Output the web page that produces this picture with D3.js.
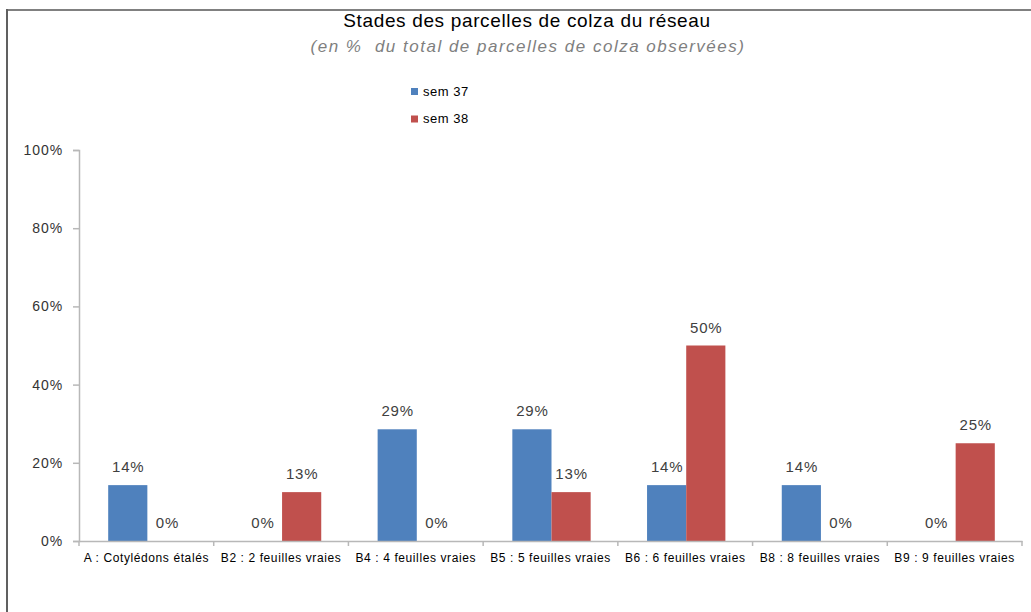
<!DOCTYPE html>
<html>
<head>
<meta charset="utf-8">
<script src="https://cdn.jsdelivr.net/npm/d3@7"></script>
<style>
  body { margin: 0; background: #fff; }
  text { font-family: "Liberation Sans", Arial, sans-serif; }
</style>
</head>
<body>
<svg id="chart" width="1031" height="612"></svg>
<script>
let categories = [
    'A : Cotylédons étalés', 'B2 : 2 feuilles vraies', 'B4 : 4 feuilles vraies',
    'B5 : 5 feuilles vraies', 'B6 : 6 feuilles vraies', 'B8 : 8 feuilles vraies',
    'B9 : 9 feuilles vraies'
]
let seriesNames = ['sem 37', 'sem 38']
let sem37 = [14.29, 0, 28.57, 28.57, 14.29, 14.29, 0]
let sem38 = [0, 12.5, 0, 12.5, 50, 0, 25]
let yTicks = [0, 20, 40, 60, 80, 100]

function main() {
    let svg = d3.select('#chart'),
        margin = {top: 150, bottom: 71, left: 79, right: 9},
        width = svg.attr('width') - margin.left - margin.right,
        height = svg.attr('height') - margin.top - margin.bottom

    let colors = d3.scaleOrdinal(['#4f81bd', '#c0504d']).domain(seriesNames)

    let data = categories.map((c, i) => ({cat: c, values: [sem37[i], sem38[i]]}))

    // frame lines (top and left only)
    svg.append('line').attr('x1', 6).attr('x2', 1031).attr('y1', 10).attr('y2', 10)
        .attr('stroke', '#808080').attr('stroke-width', 2)
    svg.append('line').attr('x1', 7).attr('x2', 7).attr('y1', 9).attr('y2', 612)
        .attr('stroke', '#606060').attr('stroke-width', 2)

    svg.append('text')
        .attr('x', 527).attr('y', 27)
        .attr('text-anchor', 'middle')
        .style('font-size', '19px').style('letter-spacing', '0.65px').attr('fill', '#000')
        .text('Stades des parcelles de colza du réseau')
    svg.append('text')
        .attr('x', 528).attr('y', 52)
        .attr('text-anchor', 'middle')
        .style('white-space', 'pre')
        .style('font-size', '17px').style('font-style', 'italic')
        .style('letter-spacing', '1.5px').attr('fill', '#7f7f7f')
        .text('(en %  du total de parcelles de colza observées)')

    let x = d3.scaleBand().domain(categories)
            .range([margin.left, margin.left + width]).paddingInner(0).paddingOuter(0),
        xs = d3.scaleBand().domain(seriesNames)
            .range([0, x.bandwidth()]).paddingInner(0).paddingOuter(0.72),
        y = d3.scaleLinear().domain([0, 100]).range([margin.top + height, margin.top])

    let groups = svg.selectAll('g.cat')
        .data(data)
        .enter()
        .append('g')
        .attr('class', 'cat')
        .attr('transform', d => 'translate(' + x(d.cat) + ',0)')

    groups.selectAll('rect')
        .data(d => d.values.map((v, j) => ({s: seriesNames[j], v: v})))
        .enter()
        .append('rect')
        .attr('x', d => xs(d.s) + 1)
        .attr('width', xs.bandwidth())
        .attr('y', d => y(d.v))
        .attr('height', d => y(0) - y(d.v))
        .attr('fill', d => colors(d.s))

    groups.selectAll('text.val')
        .data(d => d.values.map((v, j) => ({s: seriesNames[j], v: v})))
        .enter()
        .append('text')
        .attr('class', 'val')
        .attr('x', d => xs(d.s) + xs.bandwidth() / 2 + 1.5)
        .attr('y', d => y(d.v) - 13)
        .attr('text-anchor', 'middle')
        .style('font-size', '15px').style('letter-spacing', '0.8px').attr('fill', '#404040')
        .text(d => Math.round(d.v) + '%')

    // y axis
    let yAxis = svg.append('g')
        .attr('transform', 'translate(' + margin.left + ',0)')
        .call(d3.axisLeft(y).tickValues(yTicks).tickSize(6).tickPadding(10)
            .tickFormat(d => d + '%'))
    yAxis.select('.domain').attr('stroke', '#b8b8b8').attr('stroke-width', 1.5)
    yAxis.selectAll('.tick line').attr('stroke', '#b8b8b8').attr('stroke-width', 1.5)
    yAxis.selectAll('.tick text').style('font-size', '14px').style('letter-spacing', '0.9px')
        .attr('fill', '#333').attr('font-family', '"Liberation Sans", Arial, sans-serif')

    // x axis
    let xAxis = svg.append('g')
        .attr('transform', 'translate(0,' + (margin.top + height) + ')')
        .call(d3.axisBottom(x).tickSize(0).tickPadding(12))
    xAxis.select('.domain').attr('stroke', '#b8b8b8').attr('stroke-width', 1.5)
    xAxis.selectAll('.tick text').style('font-size', '12px').style('letter-spacing', '0.6px')
        .attr('fill', '#000').attr('font-family', '"Liberation Sans", Arial, sans-serif')
    xAxis.selectAll('line.sep')
        .data(categories.concat(['end']))
        .enter()
        .append('line')
        .attr('class', 'sep')
        .attr('x1', (d, i) => margin.left + i * x.bandwidth())
        .attr('x2', (d, i) => margin.left + i * x.bandwidth())
        .attr('y1', 0).attr('y2', 5)
        .attr('stroke', '#b8b8b8').attr('stroke-width', 1.5)

    // legend
    let legend = svg.append('g').attr('transform', 'translate(411,86)')
    let items = legend.selectAll('g')
        .data(seriesNames)
        .enter()
        .append('g')
        .attr('transform', (d, i) => 'translate(0,' + i * 27.5 + ')')
    items.append('rect').attr('width', 7).attr('height', 7).attr('y', 2)
        .attr('fill', d => colors(d))
    items.append('text').attr('x', 12).attr('y', 9.5)
        .style('font-size', '13px').style('letter-spacing', '0.5px').attr('fill', '#000')
        .text(d => d)
}

main()
</script>
</body>
</html>
